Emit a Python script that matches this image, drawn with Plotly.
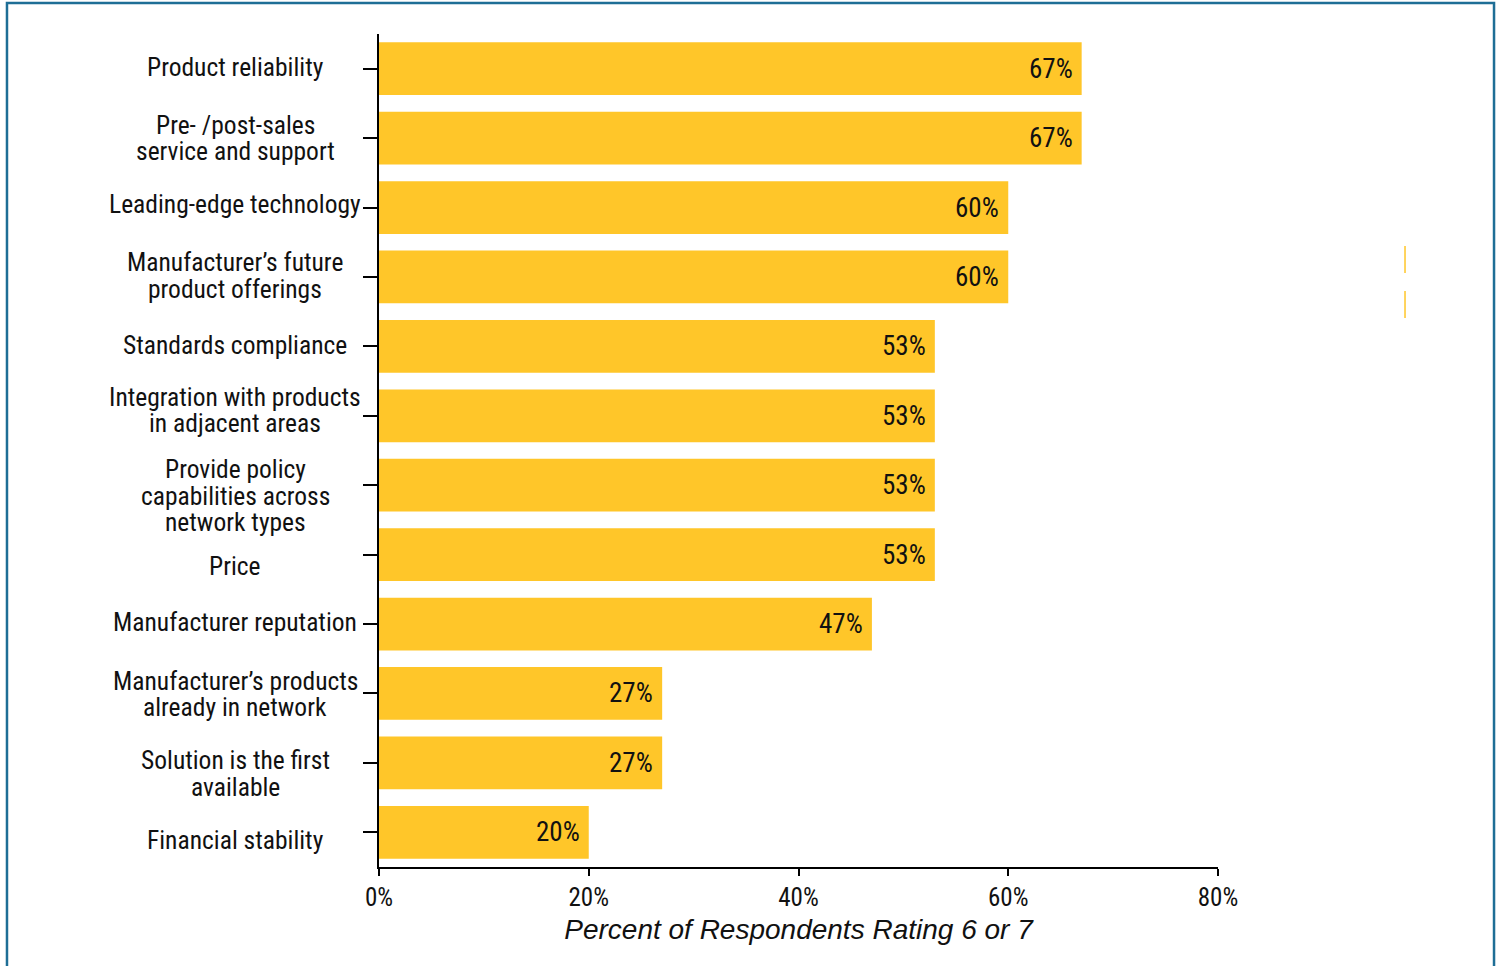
import plotly.graph_objects as go

categories = [
    "Product reliability",
    "Pre- /post-sales<br>service and support",
    "Leading-edge technology",
    "Manufacturer’s future<br>product offerings",
    "Standards compliance",
    "Integration with products<br>in adjacent areas",
    "Provide policy<br>capabilities across<br>network types",
    "Price",
    "Manufacturer reputation",
    "Manufacturer’s products<br>already in network",
    "Solution is the first<br>available",
    "Financial stability",
]
values = [67, 67, 60, 60, 53, 53, 53, 53, 47, 27, 27, 20]
x_tick_values = [0, 20, 40, 60, 80]
x_tick_labels = ["0%", "20%", "40%", "60%", "80%"]
x_title = "Percent of Respondents Rating 6 or 7"

# layout-only: vertical nudge (px, downward) of each category label vs. its bar
label_nudge_px = [-1.5, 0, -3.5, -1.5, -1.5, -6, 10.5, 11.5, -2.5, 0.5, 10.5, 7.5]

FONT = "Liberation Sans Narrow, Arial Narrow, Roboto Condensed, Roboto, sans-serif"
TFONT = "Liberation Sans, Arial, sans-serif"
BAR = "#FFC629"
BORDER = "#1E6E96"

fig = go.Figure()
fig.add_trace(go.Bar(
    x=values, y=categories, orientation="h",
    marker=dict(color=BAR, line=dict(width=0)),
    hoverinfo="skip",
))

annotations = []
# value labels inside bar ends
for c, v in zip(categories, values):
    annotations.append(dict(
        x=v, y=c, xref="x", yref="y", text=f"{v}%", showarrow=False,
        xanchor="right", yanchor="middle", xshift=-7,
        font=dict(family=FONT, size=27, color="#111111"),
    ))
# category labels, one annotation per line for tight line spacing
LINE = 26.5
for c, nudge in zip(categories, label_nudge_px):
    lines = c.split("<br>")
    n = len(lines)
    for i, ln in enumerate(lines):
        annotations.append(dict(
            x=0, y=c, xref="paper", yref="y", text=ln, showarrow=False,
            xanchor="center", yanchor="middle", xshift=-144,
            yshift=((n - 1) / 2 - i) * LINE - nudge, borderpad=0,
            font=dict(family=FONT, size=25.5, color="#111111"),
        ))

fig.update_layout(
    width=1501, height=966,
    margin=dict(l=379, r=283, t=34, b=99),
    paper_bgcolor="white", plot_bgcolor="white",
    bargap=0.24,
    showlegend=False,
    annotations=annotations,
    font=dict(family=FONT, size=26, color="#111111"),
    shapes=[
        # outer frame (left, top, right edges)
        dict(type="path", xref="paper", yref="paper",
             path="M -0.4434 -0.15 L -0.4434 1.0372 L 1.329 1.0372 L 1.329 -0.15",
             line=dict(color=BORDER, width=2.5)),
        dict(type="line", xref="paper", yref="paper",
             x0=1.2229, x1=1.2229, y0=0.7455, y1=0.713,
             line=dict(color=BAR, width=1.5)),
        dict(type="line", xref="paper", yref="paper",
             x0=1.2229, x1=1.2229, y0=0.6915, y1=0.659,
             line=dict(color=BAR, width=1.5)),
    ],
)

fig.update_xaxes(
    range=[0, 80], tickvals=x_tick_values, ticktext=x_tick_labels,
    showline=True, linecolor="black", linewidth=2,
    ticks="outside", ticklen=7, tickwidth=2, tickcolor="black",
    showgrid=False, zeroline=False,
    tickfont=dict(family=FONT, size=25, color="#111111"),
    title=dict(text=f"<i>{x_title}</i>", standoff=8,
               font=dict(family=TFONT, size=28, color="#111111")),
)
fig.update_yaxes(
    categoryorder="array", categoryarray=categories, autorange="reversed",
    showline=True, linecolor="black", linewidth=2,
    ticks="outside", ticklen=14, tickwidth=2, tickcolor="black",
    showticklabels=False, showgrid=False, zeroline=False,
)

fig.write_html("out.html")
